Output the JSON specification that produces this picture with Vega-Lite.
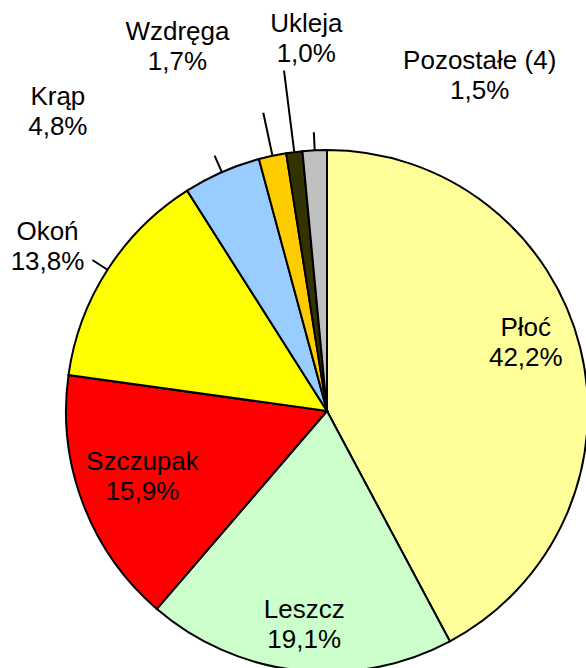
{
  "$schema": "https://vega.github.io/schema/vega-lite/v6.json",
  "width": 522,
  "height": 522,
  "autosize": "none",
  "padding": {"left": 66, "top": 150, "right": 0, "bottom": 0},
  "background": "white",
  "config": {
    "view": {"stroke": null},
    "text": {"font": "Liberation Sans", "fontSize": 26, "color": "black", "align": "center", "baseline": "middle", "lineBreak": "|", "lineHeight": 30}
  },
  "data": {"values": [
    {"name": "Płoć", "share": 42.2},
    {"name": "Leszcz", "share": 19.1},
    {"name": "Szczupak", "share": 15.9},
    {"name": "Okoń", "share": 13.8},
    {"name": "Krąp", "share": 4.8},
    {"name": "Wzdręga", "share": 1.7},
    {"name": "Ukleja", "share": 1.0},
    {"name": "Pozostałe (4)", "share": 1.5}
  ]},
  "transform": [
    {"window": [{"op": "sum", "field": "share", "as": "end"}], "frame": [null, 0], "ignorePeers": true},
    {"calculate": "datum.end - datum.share", "as": "start"},
    {"calculate": "(datum.start + datum.end) / 2", "as": "mid"},
    {"calculate": "datum.name + '|' + replace(format(datum.share, '.1f'), '.', ',') + '%'", "as": "label"}
  ],
  "layer": [
    {
      "mark": {"type": "arc", "stroke": "black", "strokeWidth": 2},
      "encoding": {
        "theta": {"field": "start", "type": "quantitative", "scale": {"domain": [0, 100]}},
        "theta2": {"field": "end"},
        "color": {
          "field": "name", "type": "nominal", "legend": null,
          "scale": {
            "domain": ["Płoć", "Leszcz", "Szczupak", "Okoń", "Krąp", "Wzdręga", "Ukleja", "Pozostałe (4)"],
            "range": ["#FFFF99", "#CCFFCC", "#FF0000", "#FFFF00", "#99CCFF", "#FFCC00", "#333300", "#C0C0C0"]
          }
        }
      }
    },
    {
      "transform": [{"filter": {"field": "name", "oneOf": ["Okoń", "Krąp", "Pozostałe (4)"]}}],
      "mark": {"type": "arc", "radius": 279, "radius2": 261, "fill": null, "stroke": "black", "strokeWidth": 2},
      "encoding": {
        "theta": {"field": "mid", "type": "quantitative", "stack": null, "scale": {"domain": [0, 100]}},
        "theta2": {"field": "mid"}
      }
    },
    {
      "transform": [{"filter": "datum.name === 'Wzdręga'"}],
      "mark": {"type": "arc", "radius": 305, "radius2": 261, "fill": null, "stroke": "black", "strokeWidth": 2},
      "encoding": {
        "theta": {"field": "mid", "type": "quantitative", "stack": null, "scale": {"domain": [0, 100]}},
        "theta2": {"field": "mid"}
      }
    },
    {
      "transform": [{"filter": "datum.name === 'Ukleja'"}],
      "mark": {"type": "arc", "radius": 343, "radius2": 261, "fill": null, "stroke": "black", "strokeWidth": 2},
      "encoding": {
        "theta": {"field": "mid", "type": "quantitative", "stack": null, "scale": {"domain": [0, 100]}},
        "theta2": {"field": "mid"}
      }
    },
    {
      "transform": [{"filter": "datum.name === 'Płoć'"}],
      "mark": {"type": "text", "radius": 208, "dx": -3, "dy": -33},
      "encoding": {
        "theta": {"field": "mid", "type": "quantitative", "stack": null, "scale": {"domain": [0, 100]}},
        "text": {"field": "label"}
      }
    },
    {
      "transform": [{"filter": "datum.name === 'Leszcz'"}],
      "mark": {"type": "text", "radius": 208, "dx": 0, "dy": -8},
      "encoding": {
        "theta": {"field": "mid", "type": "quantitative", "stack": null, "scale": {"domain": [0, 100]}},
        "text": {"field": "label"}
      }
    },
    {
      "transform": [{"filter": "datum.name === 'Szczupak'"}],
      "mark": {"type": "text", "radius": 208, "dx": 10, "dy": -23},
      "encoding": {
        "theta": {"field": "mid", "type": "quantitative", "stack": null, "scale": {"domain": [0, 100]}},
        "text": {"field": "label"}
      }
    },
    {
      "transform": [{"filter": "datum.name === 'Okoń'"}],
      "mark": {"type": "text", "radius": 261, "dx": -60, "dy": -38},
      "encoding": {
        "theta": {"field": "mid", "type": "quantitative", "stack": null, "scale": {"domain": [0, 100]}},
        "text": {"field": "label"}
      }
    },
    {
      "transform": [{"filter": "datum.name === 'Krąp'"}],
      "mark": {"type": "text", "radius": 261, "dx": -164, "dy": -75},
      "encoding": {
        "theta": {"field": "mid", "type": "quantitative", "stack": null, "scale": {"domain": [0, 100]}},
        "text": {"field": "label"}
      }
    },
    {
      "transform": [{"filter": "datum.name === 'Wzdręga'"}],
      "mark": {"type": "text", "radius": 261, "dx": -95, "dy": -124},
      "encoding": {
        "theta": {"field": "mid", "type": "quantitative", "stack": null, "scale": {"domain": [0, 100]}},
        "text": {"field": "label"}
      }
    },
    {
      "transform": [{"filter": "datum.name === 'Ukleja'"}],
      "mark": {"type": "text", "radius": 261, "dx": 12, "dy": -128},
      "encoding": {
        "theta": {"field": "mid", "type": "quantitative", "stack": null, "scale": {"domain": [0, 100]}},
        "text": {"field": "label"}
      }
    },
    {
      "transform": [{"filter": "datum.name === 'Pozostałe (4)'"}],
      "mark": {"type": "text", "radius": 261, "dx": 165, "dy": -89},
      "encoding": {
        "theta": {"field": "mid", "type": "quantitative", "stack": null, "scale": {"domain": [0, 100]}},
        "text": {"field": "label"}
      }
    }
  ]
}
